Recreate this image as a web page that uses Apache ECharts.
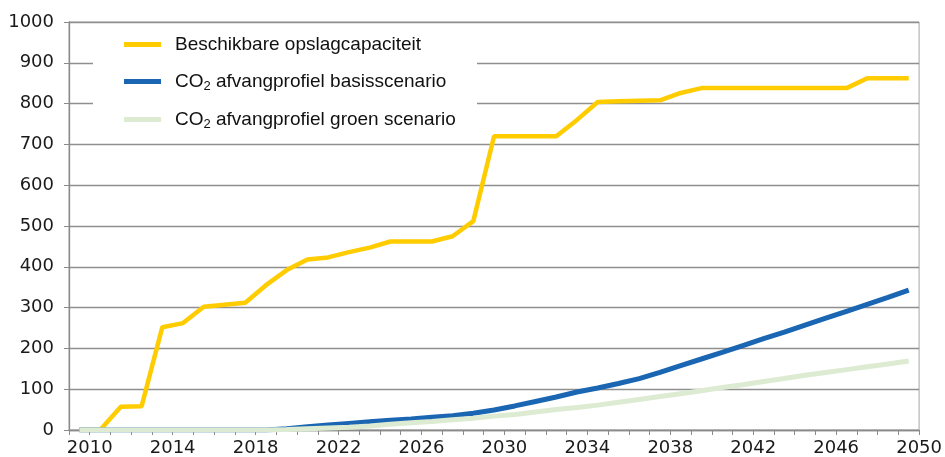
<!DOCTYPE html>
<html>
<head>
<meta charset="utf-8">
<script src="https://cdn.jsdelivr.net/npm/echarts@6/dist/echarts.min.js"></script>
<style>
  html, body { margin: 0; padding: 0; background: #fff; }
  #chart { width: 945px; height: 457px; }
</style>
</head>
<body>
<div id="chart"></div>
<script>
// years of the data points (drawn in the middle of each year)
const years = [
  2009, 2010, 2011, 2012, 2013, 2014, 2015, 2016, 2017, 2018,
  2019, 2020, 2021, 2022, 2023, 2024, 2025, 2026, 2027, 2028,
  2029, 2030, 2031, 2032, 2033, 2034, 2035, 2036, 2037, 2038,
  2039, 2040, 2041, 2042, 2043, 2044, 2045, 2046, 2047, 2048, 2049
];

// Beschikbare opslagcapaciteit
const capacity = [
  0, 0, 57, 58, 252, 262, 302, 307, 312, 355,
  392, 418, 423, 436, 447, 462, 462, 462, 475, 512,
  720, 720, 720, 720, 760, 804, 806, 807, 808, 826,
  838, 838, 838, 838, 838, 838, 838, 838, 862, 862, 862
];

// CO2 afvangprofiel basisscenario
const basis = [
  0, 0, 0, 0, 0, 0, 0, 0, 0, 0,
  3, 8, 12, 16, 20, 24, 27, 31, 35, 41,
  49, 59, 70, 81, 93, 103, 114, 126, 141, 158,
  174, 190, 207, 224, 240, 257, 274, 291, 308, 325, 343
];

// CO2 afvangprofiel groen scenario
const groen = [
  0, 0, 0, 0, 0, 0, 0, 0, 0, 0,
  1, 3, 5, 7, 10, 14, 18, 21, 25, 29,
  34, 38, 44, 50, 55, 61, 68, 75, 82, 89,
  96, 104, 111, 119, 126, 134, 141, 148, 155, 162, 169
];

const seriesNames = [
  "Beschikbare opslagcapaciteit",
  "CO2 afvangprofiel basisscenario",
  "CO2 afvangprofiel groen scenario"
];
const colors = ["#ffcc00", "#1a66b3", "#dcebd2"];

const toPoints = values => values.map((v, i) => [years[i] + 0.5, v]);

const legendText = name => {
  if (name.startsWith("CO2")) {
    return "{n|CO}{s|2}{n|" + name.slice(3) + "}";
  }
  return "{n|" + name + "}";
};

const legendTops = [35, 72, 110];

const chart = echarts.init(document.getElementById("chart"));

chart.setOption({
  animation: false,
  color: colors,
  grid: {
    left: 69,
    right: 23,
    top: 22,
    bottom: 26,
    show: true,
    borderColor: "#a6a6a6",
    borderWidth: 1
  },
  graphic: [
    {
      type: "rect",
      shape: { x: 93, y: 24, width: 384, height: 117 },
      style: { fill: "#ffffff" },
      z: 3
    }
  ],
  legend: seriesNames.map((name, i) => ({
    data: [{ name: name, icon: "rect" }],
    left: 124,
    top: legendTops[i],
    padding: 0,
    itemWidth: 37,
    itemHeight: 5,
    formatter: legendText,
    textStyle: {
      padding: [0, 0, 0, 9],
      rich: {
        n: { fontFamily: "Liberation Sans, Arial, sans-serif", fontSize: 19, color: "#111" },
        s: { fontFamily: "Liberation Sans, Arial, sans-serif", fontSize: 13, color: "#111", padding: [10, 0, 0, 0] }
      }
    },
    z: 5
  })),
  xAxis: {
    type: "value",
    min: 2009,
    max: 2050,
    interval: 1,
    splitLine: { show: false },
    axisLine: { show: true, lineStyle: { color: "#8a8a8a", width: 1.3 } },
    axisTick: { show: true, length: 5, lineStyle: { color: "#8a8a8a" } },
    axisLabel: {
      margin: 9,
      fontFamily: "DejaVu Sans, sans-serif",
      fontSize: 18,
      color: "#1a1a1a",
      showMinLabel: true,
      showMaxLabel: true,
      formatter: v => ((v - 2010) % 4 === 0 ? String(v) : "")
    }
  },
  yAxis: {
    type: "value",
    min: 0,
    max: 1000,
    interval: 100,
    splitLine: { show: true, lineStyle: { color: "#8f8f8f", width: 1.3 } },
    axisLine: { show: true, lineStyle: { color: "#8a8a8a", width: 1.3 } },
    axisTick: { show: true, length: 5, lineStyle: { color: "#8a8a8a" } },
    axisLabel: {
      margin: 15,
      fontFamily: "DejaVu Sans, sans-serif",
      fontSize: 18,
      color: "#1a1a1a",
      formatter: v => String(v)
    }
  },
  series: [
    {
      name: seriesNames[0],
      type: "line",
      data: toPoints(capacity),
      showSymbol: false,
      lineStyle: { width: 4.5, color: colors[0] }
    },
    {
      name: seriesNames[1],
      type: "line",
      data: toPoints(basis),
      showSymbol: false,
      lineStyle: { width: 5, color: colors[1] }
    },
    {
      name: seriesNames[2],
      type: "line",
      data: toPoints(groen),
      showSymbol: false,
      lineStyle: { width: 5, color: colors[2] }
    }
  ]
});
</script>
</body>
</html>
